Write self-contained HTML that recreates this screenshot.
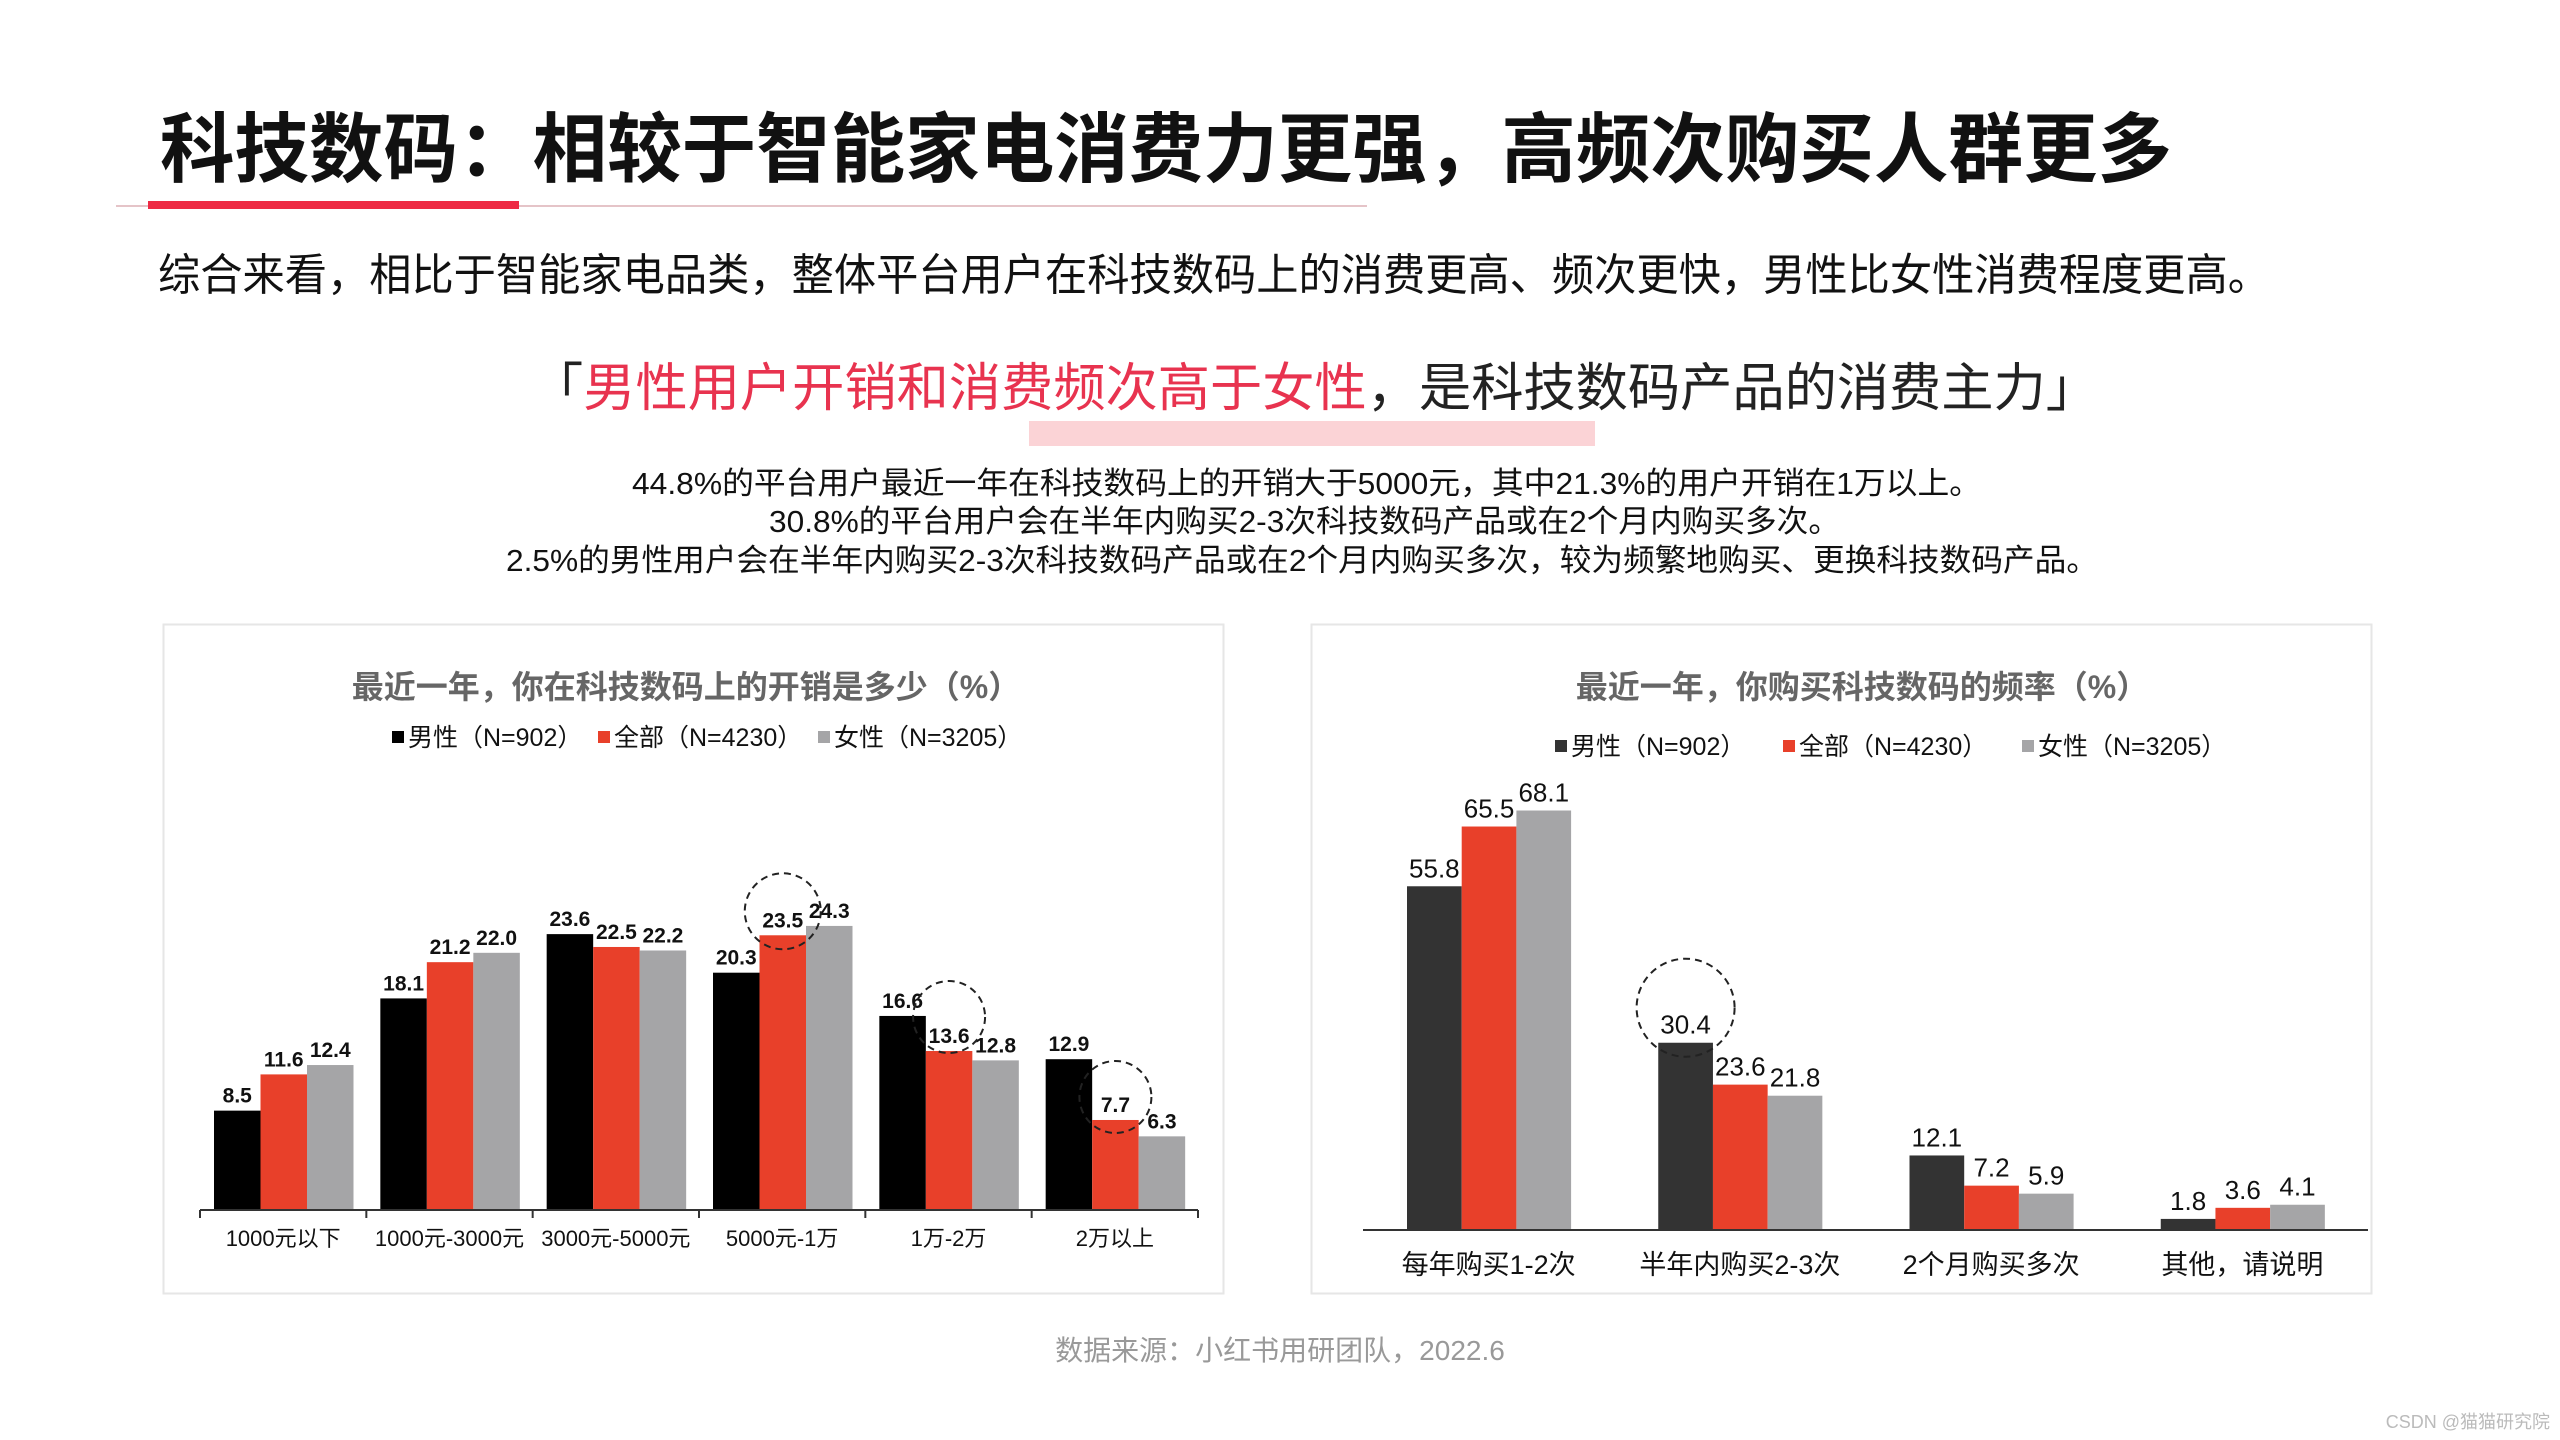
<!DOCTYPE html>
<html><head><meta charset="utf-8"><style>
html,body{margin:0;padding:0;background:#fff;}
svg{display:block;font-family:"Liberation Sans","Noto Sans CJK SC",sans-serif;}
</style></head><body>
<svg id="root" width="2560" height="1440" viewBox="0 0 2560 1440" xmlns="http://www.w3.org/2000/svg">
<text x="160" y="176" font-size="76" font-weight="bold" fill="#111" textLength="2012" lengthAdjust="spacingAndGlyphs" font-family="'Liberation Sans','Noto Sans CJK SC',sans-serif">科技数码：相较于智能家电消费力更强，高频次购买人群更多</text>
<rect x="116" y="205" width="1251" height="2" fill="#e5c4c8"/>
<rect x="148" y="201" width="371" height="8" fill="#ee2a44"/>
<text x="158" y="290" font-size="44" fill="#111" textLength="2112" lengthAdjust="spacingAndGlyphs">综合来看，相比于智能家电品类，整体平台用户在科技数码上的消费更高、频次更快，男性比女性消费程度更高。</text>
<rect x="1029" y="421" width="566" height="25" fill="#fbd3d6"/>
<text x="531" y="406" font-size="52" fill="#222" textLength="1567" lengthAdjust="spacingAndGlyphs">「<tspan fill="#e8334f">男性用户开销和消费频次高于女性</tspan>，是科技数码产品的消费主力」</text>
<text x="632" y="494" font-size="31" fill="#111" textLength="1349" lengthAdjust="spacingAndGlyphs">44.8%的平台用户最近一年在科技数码上的开销大于5000元，其中21.3%的用户开销在1万以上。</text>
<text x="769" y="532" font-size="31" fill="#111" textLength="1071" lengthAdjust="spacingAndGlyphs">30.8%的平台用户会在半年内购买2-3次科技数码产品或在2个月内购买多次。</text>
<text x="506" y="571" font-size="31" fill="#111" textLength="1592" lengthAdjust="spacingAndGlyphs">2.5%的男性用户会在半年内购买2-3次科技数码产品或在2个月内购买多次，较为频繁地购买、更换科技数码产品。</text>

<rect x="163.5" y="624.5" width="1060" height="669" fill="none" stroke="#e6e6e6" stroke-width="2"/>
<rect x="1311.5" y="624.5" width="1060" height="669" fill="none" stroke="#e6e6e6" stroke-width="2"/>
<text x="686" y="698" font-size="32" font-weight="bold" fill="#666" text-anchor="middle">最近一年，你在科技数码上的开销是多少（%）</text>
<text x="1862" y="698" font-size="32" font-weight="bold" fill="#666" text-anchor="middle">最近一年，你购买科技数码的频率（%）</text>
<g id="c1"></g><g id="c2"></g>
<text x="1280" y="1360" font-size="28" fill="#999" text-anchor="middle">数据来源：小红书用研团队，2022.6</text>
<text x="2550" y="1428" font-size="18" fill="#bbb" text-anchor="end">CSDN @猫猫研究院</text>
</svg>
<script>
var NS="http://www.w3.org/2000/svg";
var seriesNames=["男性（N=902）","全部（N=4230）","女性（N=3205）"];
var spendCats=["1000元以下","1000元-3000元","3000元-5000元","5000元-1万","1万-2万","2万以上"];
var spendMale=[8.5,18.1,23.6,20.3,16.6,12.9];
var spendAll=[11.6,21.2,22.5,23.5,13.6,7.7];
var spendFemale=[12.4,22.0,22.2,24.3,12.8,6.3];
var freqCats=["每年购买1-2次","半年内购买2-3次","2个月购买多次","其他，请说明"];
var freqMale=[55.8,30.4,12.1,1.8];
var freqAll=[65.5,23.6,7.2,3.6];
var freqFemale=[68.1,21.8,5.9,4.1];
function mk(tag,attrs,parent,txt){var e=document.createElementNS(NS,tag);for(var k in attrs)e.setAttribute(k,attrs[k]);if(txt!==undefined)e.textContent=txt;parent.appendChild(e);return e;}
function chart(g,cfg){
  var cats=cfg.cats,series=cfg.series,n=cats.length;
  var gw=(cfg.x1-cfg.x0)/n;
  function xs(i,s){return cfg.x0+gw*i+cfg.off+s*cfg.bw;}
  function ys(v){return cfg.base-v*cfg.k;}
  var lx=cfg.legX;
  for(var s=0;s<3;s++){
    var r=mk("rect",{x:lx[s],y:cfg.legY-15,width:12,height:12,fill:cfg.colors[s]},g);
    
    
    var t=mk("text",{x:lx[s]+16,y:cfg.legY,"font-size":cfg.legFs,fill:"#111"},g,seriesNames[s]);
    
    
  }
  for(var i=0;i<n;i++){
    for(var s=0;s<3;s++){
      var v=series[s][i];
      var b=mk("rect",{x:xs(i,s),y:ys(v),width:cfg.bw,height:v*cfg.k,fill:cfg.colors[s]},g);
      
      
      var l=mk("text",{x:xs(i,s)+cfg.bw/2,y:ys(v)-cfg.lblGap,"font-size":cfg.valFs,"font-weight":cfg.valW,fill:"#111","text-anchor":"middle"},g,v.toFixed(1));
      
      
    }
    var c=mk("text",{x:cfg.x0+gw*(i+0.5),y:cfg.catY,"font-size":cfg.catFs,fill:"#111","text-anchor":"middle"},g,cats[i]);
    
    
    if(cfg.ticks){
      var tk=mk("line",{x1:cfg.x0+gw*i,x2:cfg.x0+gw*i,y1:cfg.base,y2:cfg.base+8,stroke:"#333","stroke-width":2},g);
      
      
    }
  }
  if(cfg.ticks){var tk2=mk("line",{x1:cfg.x1,x2:cfg.x1,y1:cfg.base,y2:cfg.base+8,stroke:"#333","stroke-width":2},g);
    
    }
  var ax=mk("line",{x1:cfg.x0,x2:cfg.x1,y1:cfg.base,y2:cfg.base,stroke:"#333","stroke-width":2},g);
  
  
  cfg.circles.forEach(function(cc){
    var i=cc[0],s=cc[1],v=series[s][i];
    var ci=mk("circle",{cx:xs(i,s)+cfg.bw/2,cy:ys(v)-cc[2],r:cc[3],fill:"none",stroke:"#222","stroke-width":2,"stroke-dasharray":"7 5"},g);
    
    
  });
}
chart(document.getElementById("c1"),{cats:spendCats,series:[spendMale,spendAll,spendFemale],x0:200,x1:1198,off:14,bw:46.5,base:1210,k:11.69,
 colors:["#000","#e8402a","#a5a5a7"],legX:[392,598,818],legY:746,legFs:25,valFs:21,valW:"bold",lblGap:8,catY:1246,catFs:22,ticks:true,
 circles:[[3,1,24,38],[4,1,34,36],[5,1,23,36]]});
chart(document.getElementById("c2"),{cats:freqCats,series:[freqMale,freqAll,freqFemale],x0:1363,x1:2368,off:44,bw:54.7,base:1230,k:6.16,
 colors:["#333","#e8402a","#a5a5a7"],legX:[1555,1783,2022],legY:755,legFs:25,valFs:26,valW:"normal",lblGap:9,catY:1274,catFs:27,ticks:false,
 circles:[[1,0,35,49]]});
</script>
</body></html>
